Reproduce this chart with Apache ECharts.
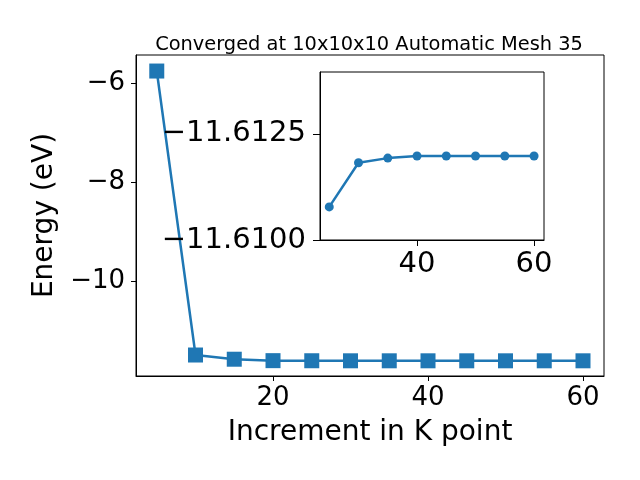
<!DOCTYPE html>
<html><head><meta charset="utf-8">
<script src="https://cdn.jsdelivr.net/npm/echarts@6/dist/echarts.min.js"></script>
<style>html,body{margin:0;padding:0;background:#fff}#c{width:640px;height:480px}</style>
</head><body><div id="c"></div>
<script>
const kpoints = [5,10,15,20,25,30,35,40,45,50,55,60];
const energy = [-5.758,-11.495,-11.58,-11.609,-11.61078,-11.61182,-11.61193,-11.61198,-11.61198,-11.61198,-11.61198,-11.61198];
const insetStart = 4;
const mainXTicks = [20,40,60];
const mainYTicks = [-10,-8,-6];
const insetXTicks = [40,60];
const insetYTicks = [-11.6125,-11.61];
const titleText = 'Converged at 10x10x10 Automatic Mesh 35';
const xLabel = 'Increment in K point';
const yLabel = 'Energy (eV)';

const C = '#1f77b4';
const F = 'DejaVu Sans';
const fmt = (v, d) => { const s = (+v).toFixed(d); return s.replace('-', '\u2212'); };
const mainData = kpoints.map((k,i)=>[k, energy[i]]);
const insetData = kpoints.slice(insetStart).map((k,i)=>[k, energy[i+insetStart]]);

const chart = echarts.init(document.getElementById('c'), null, {renderer:'canvas'});
const axisCommon = {
  axisLine:{show:true, onZero:false, lineStyle:{color:'#000', width:1}},
  splitLine:{show:false},
};
chart.setOption({
  animation:false,
  backgroundColor:'#fff',
  title:{text:titleText, left:364, top:30, textAlign:'center',
    textStyle:{fontFamily:F, fontSize:19.4, fontWeight:'normal', color:'#000'}},
  grid:[
    {left:136, top:55, width:468, height:321, show:true, borderColor:'#000', borderWidth:1, backgroundColor:'transparent'},
    {left:320, top:72, width:224, height:168, show:true, borderColor:'#000', borderWidth:1, backgroundColor:'#fff', z:5}
  ],
  xAxis:[
    Object.assign({}, axisCommon, {type:'value', gridIndex:0, min:2.32, max:62.71,
      name:xLabel, nameLocation:'middle', nameGap:43,
      nameTextStyle:{fontFamily:F, fontSize:28, color:'#000'},
      axisTick:{show:true, length:5, customValues:mainXTicks, lineStyle:{color:'#000'}},
      axisLabel:{customValues:mainXTicks, margin:9, fontFamily:F, fontSize:26, color:'#000', formatter:v=>fmt(v,0)}}),
    Object.assign({}, axisCommon, {type:'value', gridIndex:1, min:23.42, max:61.7, z:6,
      axisTick:{show:true, length:6, customValues:insetXTicks, lineStyle:{color:'#000'}},
      axisLabel:{customValues:insetXTicks, margin:10, fontFamily:F, fontSize:29, color:'#000', formatter:v=>fmt(v,0)}})
  ],
  yAxis:[
    Object.assign({}, axisCommon, {type:'value', gridIndex:0, min:-11.919, max:-5.434,
      name:yLabel, nameLocation:'middle', nameGap:77, nameRotate:90,
      nameTextStyle:{fontFamily:F, fontSize:28, color:'#000'},
      axisTick:{show:true, length:5, customValues:mainYTicks, lineStyle:{color:'#000'}},
      axisLabel:{customValues:mainYTicks, margin:11, fontFamily:F, fontSize:26, color:'#000', formatter:v=>fmt(v,0)}}),
    Object.assign({}, axisCommon, {type:'value', gridIndex:1, inverse:true, min:-11.61396, max:-11.6100, z:6,
      axisTick:{show:true, length:7, customValues:insetYTicks, lineStyle:{color:'#000'}},
      axisLabel:{customValues:insetYTicks, margin:14, fontFamily:F, fontSize:29, color:'#000', formatter:v=>fmt(v,4)}})
  ],
  series:[
    {type:'line', xAxisIndex:0, yAxisIndex:0, data:mainData, symbol:'rect', symbolSize:15,
      lineStyle:{color:C, width:2.5}, itemStyle:{color:C}, z:2},
    {type:'line', xAxisIndex:1, yAxisIndex:1, data:insetData, symbol:'circle', symbolSize:9,
      lineStyle:{color:C, width:2.5}, itemStyle:{color:C}, z:7}
  ]
});
</script></body></html>
